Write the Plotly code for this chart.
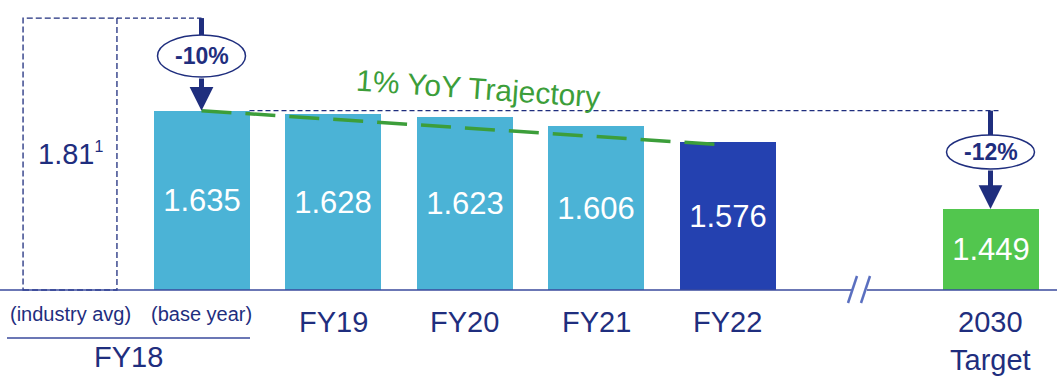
import plotly.graph_objects as go

# ---------------- data ----------------
CATEGORIES = ["(base year)", "FY19", "FY20", "FY21", "FY22", "2030<br>Target"]
SLOTS = [1, 2, 3, 4, 5, 7]
VALUES = [1.635, 1.628, 1.623, 1.606, 1.576, 1.449]
BAR_COLORS = ["#4BB3D6", "#4BB3D6", "#4BB3D6", "#4BB3D6", "#2441B0", "#52C64E"]
INDUSTRY_LABEL = "(industry avg)"
INDUSTRY_VALUE = 1.81
GROUP_LABEL = "FY18"
TRAJ_X = [1, 4.93]
TRAJ_Y = [1.635, 1.571]
TRAJ_LABEL = "1% YoY Trajectory"
DROP_LABELS = ["-10%", "-12%"]

BASE = 1.296           # value at the visible baseline
NAVY = "#1F2E7E"
AXIS = "#3A4A9C"
GREEN = "#3C9E3A"
FONT = "Liberation Sans, Arial, sans-serif"

W, H = 1061, 387
BASE_PX = 290
PX_PER_UNIT = 529.0
SLOT_PX = 131.5
X0_PX = 70

def X(px):
    return (px - X0_PX) / SLOT_PX

def Y(py):
    return BASE + (BASE_PX - py) / PX_PER_UNIT

fig = go.Figure()

fig.add_trace(go.Bar(
    x=SLOTS, y=[v - BASE for v in VALUES], base=BASE,
    width=0.73, marker=dict(color=BAR_COLORS, line=dict(width=0)),
    text=[f"{v:.3f}" for v in VALUES], textposition="inside",
    insidetextanchor="middle", textangle=0, constraintext="none",
    textfont=dict(color="white", size=31, family=FONT),
    hoverinfo="skip", showlegend=False,
))

fig.add_trace(go.Scatter(
    x=TRAJ_X, y=TRAJ_Y, mode="lines",
    line=dict(color=GREEN, width=3.5, dash="30px,14px"),
    hoverinfo="skip", showlegend=False,
))

shapes = []
ann = []

# industry avg dashed box
shapes.append(dict(type="rect", xref="x", yref="y", x0=0 - 0.357, x1=0 + 0.357,
                   y0=BASE, y1=INDUSTRY_VALUE,
                   line=dict(color=NAVY, width=1.3, dash="6px,3px"), layer="below"))
# dashed reference lines
shapes.append(dict(type="line", xref="x", yref="y", x0=0.357, x1=1,
                   y0=INDUSTRY_VALUE, y1=INDUSTRY_VALUE,
                   line=dict(color=NAVY, width=1.2, dash="5px,3px")))
shapes.append(dict(type="line", xref="x", yref="y", x0=1 + 0.365, x1=X(1000),
                   y0=VALUES[0], y1=VALUES[0],
                   line=dict(color=NAVY, width=1.2, dash="5px,3px"), layer="below"))

# axis line with break
shapes.append(dict(type="line", xref="x", yref="y", x0=X(0), x1=X(852), y0=BASE, y1=BASE,
                   line=dict(color=AXIS, width=1.6)))
shapes.append(dict(type="line", xref="x", yref="y", x0=X(867), x1=X(1057), y0=BASE, y1=BASE,
                   line=dict(color=AXIS, width=1.6)))
for dx in (0, 13):
    shapes.append(dict(type="line", xref="x", yref="y", x0=X(848 + dx), x1=X(857 + dx),
                       y0=Y(303), y1=Y(276), line=dict(color="#5A6FC0", width=2.5)))

# underline under FY18 sub-labels
shapes.append(dict(type="line", xref="x", yref="y", x0=X(7), x1=X(250), y0=Y(338), y1=Y(338),
                   line=dict(color=AXIS, width=1.6)))

# drop arrows with ellipse labels
half_w = 44 / SLOT_PX
drops = [
    (SLOTS[0], INDUSTRY_VALUE, VALUES[0], 56, 42, DROP_LABELS[0]),
    (SLOTS[-1], VALUES[0], VALUES[-1], 152, 34, DROP_LABELS[1]),
]
for xs, ytop, ybot, cy_px, eh, label in drops:
    cy = Y(cy_px)
    half_h = eh / 2 / PX_PER_UNIT
    # upper shaft
    shapes.append(dict(type="line", xref="x", yref="y", x0=xs, x1=xs, y0=ytop, y1=cy,
                       line=dict(color=NAVY, width=5)))
    # lower arrow (starts at ellipse bottom)
    ann.append(dict(x=xs, y=ybot, ax=xs, ay=cy - half_h, xref="x", yref="y",
                    axref="x", ayref="y",
                    showarrow=True, arrowhead=2, arrowsize=0.95, arrowwidth=5,
                    arrowcolor=NAVY, text="", standoff=0))
    # ellipse
    shapes.append(dict(type="circle", xref="x", yref="y",
                       x0=xs - half_w, x1=xs + half_w,
                       y0=cy - half_h, y1=cy + half_h,
                       fillcolor="white", line=dict(color=NAVY, width=1.5), layer="above"))
    ann.append(dict(x=xs, y=cy, xref="x", yref="y", text=f"<b>{label}</b>", showarrow=False,
                    font=dict(color=NAVY, size=23, family=FONT)))

# industry avg value label
ann.append(dict(x=0, y=(BASE + INDUSTRY_VALUE) / 2, xref="x", yref="y",
                text=f"{INDUSTRY_VALUE}<sup><span style='font-size:16px'>1</span></sup>",
                showarrow=False, font=dict(color=NAVY, size=29, family=FONT)))

# trajectory label
ann.append(dict(x=X(478), y=Y(88), xref="x", yref="y", text=TRAJ_LABEL, showarrow=False,
                textangle=4, font=dict(color=GREEN, size=30, family=FONT)))

# category labels
ann.append(dict(x=0, y=Y(314), xref="x", yref="y", text=INDUSTRY_LABEL, showarrow=False,
                font=dict(color=NAVY, size=20, family=FONT)))
for xs, cat in zip(SLOTS, CATEGORIES):
    if cat.startswith("("):
        ann.append(dict(x=xs, y=Y(314), xref="x", yref="y", text=cat, showarrow=False,
                        font=dict(color=NAVY, size=20, family=FONT)))
    else:
        ann.append(dict(x=xs, y=Y(304), xref="x", yref="y", text=cat, showarrow=False,
                        yanchor="top", font=dict(color=NAVY, size=29, family=FONT)))
ann.append(dict(x=X(128), y=Y(357), xref="x", yref="y", text=GROUP_LABEL, showarrow=False,
                font=dict(color=NAVY, size=29, family=FONT)))

fig.update_layout(
    width=W, height=H, margin=dict(l=0, r=0, t=0, b=0),
    paper_bgcolor="white", plot_bgcolor="white",
    xaxis=dict(range=[X(0), X(W)], visible=False, fixedrange=True),
    yaxis=dict(range=[Y(H), Y(0)], visible=False, fixedrange=True),
    shapes=shapes, annotations=ann, bargap=0,
    font=dict(family=FONT),
)

fig.write_html("out.html", config={"displayModeBar": False},
               post_script="document.body.style.margin='0';")
